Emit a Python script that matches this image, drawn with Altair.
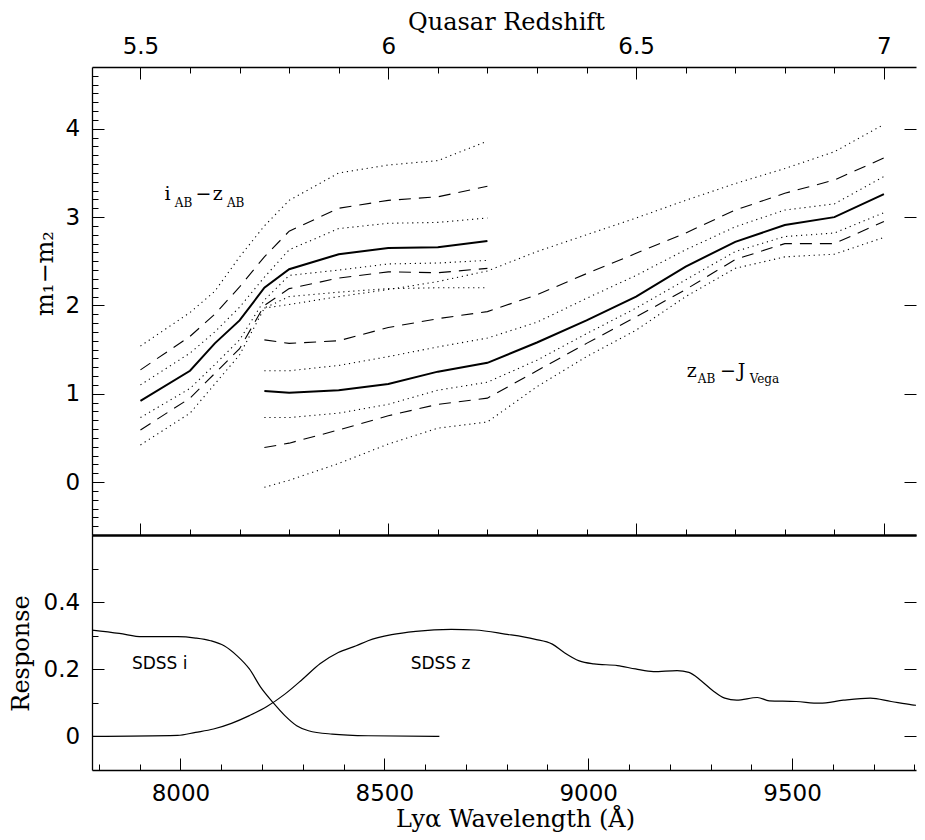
import altair as alt
import pandas as pd

LYA = 1215.67
X_DOMAIN = [7783, 9804]
Y_TOP = [-0.6, 4.7]
Y_BOT = [-0.1, 0.6]
W = 824
H_TOP = 468
H_BOT = 235

# ---------------- top panel: colour tracks (x = quasar redshift) ----------------
z_iz = [5.5, 5.6, 5.65, 5.7, 5.75, 5.8, 5.9, 6.0, 6.1, 6.2]
iz_dot_hi = [1.54, 1.92, 2.16, 2.55, 2.90, 3.19, 3.50, 3.59, 3.64, 3.86]
iz_dash_hi = [1.27, 1.65, 1.90, 2.21, 2.55, 2.84, 3.10, 3.19, 3.23, 3.35]
iz_dot_mid_hi = [1.10, 1.46, 1.70, 1.98, 2.32, 2.63, 2.87, 2.93, 2.94, 2.99]
iz_solid = [0.92, 1.26, 1.57, 1.83, 2.20, 2.41, 2.58, 2.65, 2.66, 2.73]
iz_dot_mid_lo = [0.73, 1.06, 1.33, 1.61, 2.06, 2.34, 2.40, 2.47, 2.48, 2.51]
iz_dash_lo = [0.59, 0.95, 1.23, 1.51, 2.00, 2.19, 2.31, 2.38, 2.37, 2.42]
iz_dot_lo = [0.42, 0.78, 1.11, 1.44, 1.97, 2.10, 2.15, 2.19, 2.20, 2.20]

z_zj = [5.75, 5.8, 5.9, 6.0, 6.1, 6.2, 6.3, 6.4, 6.5, 6.6, 6.7, 6.8, 6.9, 7.0]
zj_dot_hi = [1.97, 2.01, 2.10, 2.18, 2.27, 2.39, 2.61, 2.80, 2.99, 3.19, 3.38, 3.55, 3.74, 4.05]
zj_dash_hi = [1.61, 1.57, 1.60, 1.75, 1.85, 1.93, 2.12, 2.36, 2.59, 2.82, 3.08, 3.27, 3.42, 3.67]
zj_dot_mid_hi = [1.26, 1.26, 1.32, 1.42, 1.53, 1.63, 1.81, 2.08, 2.34, 2.63, 2.89, 3.08, 3.15, 3.46]
zj_solid = [1.03, 1.01, 1.04, 1.11, 1.25, 1.35, 1.58, 1.83, 2.10, 2.44, 2.72, 2.91, 3.00, 3.26]
zj_dot_mid_lo = [0.73, 0.73, 0.78, 0.88, 1.04, 1.13, 1.38, 1.68, 1.97, 2.29, 2.61, 2.78, 2.82, 3.05]
zj_dash_lo = [0.39, 0.44, 0.59, 0.75, 0.88, 0.95, 1.26, 1.57, 1.87, 2.18, 2.52, 2.70, 2.70, 2.95]
zj_dot_lo = [-0.06, 0.02, 0.21, 0.43, 0.61, 0.68, 1.08, 1.42, 1.72, 2.10, 2.42, 2.55, 2.58, 2.77]

# ---------------- bottom panel: filter responses (x = wavelength) ----------------
i_wave = [7782, 7850, 7906, 7993, 8037, 8074, 8107, 8139, 8169, 8197, 8227, 8256,
          8285, 8314, 8372, 8460, 8635]
i_resp = [0.317, 0.307, 0.297, 0.297, 0.293, 0.285, 0.270, 0.240, 0.201, 0.146, 0.101,
          0.062, 0.032, 0.017, 0.007, 0.002, 0.0]
z_wave = [7782, 7993, 8037, 8081, 8125, 8169, 8212, 8256, 8300, 8343, 8387, 8431, 8460,
          8518, 8577, 8664, 8723, 8796, 8868, 8912, 8941, 8978, 9014, 9072, 9116, 9160,
          9218, 9247, 9277, 9306, 9335, 9364, 9415, 9444, 9510, 9568, 9626, 9692, 9743,
          9794, 9841]
z_resp = [0.0, 0.003, 0.012, 0.022, 0.039, 0.062, 0.089, 0.126, 0.171, 0.217, 0.25, 0.27,
          0.285, 0.303, 0.313, 0.319, 0.317, 0.305, 0.29, 0.275, 0.25, 0.225, 0.216, 0.211,
          0.201, 0.193, 0.196, 0.191, 0.166, 0.136, 0.114, 0.108, 0.116, 0.106, 0.104,
          0.099, 0.108, 0.114, 0.104, 0.094, 0.09]

# ---------------- annotations ----------------
ann_main_text = ["i", "\u2212", "z", "z", "\u2212", "J"]
ann_main_wave = [7961, 8037, 8079, 9242, 9323, 9367]
ann_main_val = [3.19, 3.19, 3.19, 1.19, 1.19, 1.19]
ann_sub_text = ["AB", "AB", "AB", "Vega"]
ann_sub_wave = [7986, 8114, 9269, 9396]
ann_sub_val = [3.11, 3.11, 1.12, 1.12]
filt_text = ["SDSS i", "SDSS z"]
filt_wave = [7949, 8638]
filt_val = [0.2, 0.2]

# tick lists
redshift_ticks = [round(k / 10, 1) for k in range(55, 71)]
redshift_tick_waves = [round(LYA * (1 + z), 3) for z in redshift_ticks]
wave_ticks = list(range(7800, 9900, 100))
ytop_ticks = [round(k / 10, 1) for k in range(-5, 47)]
ytop_major_ticks = [0, 1, 2, 3, 4]
ybot_ticks = [round(k / 10, 1) for k in range(0, 6)]
ybot_major_ticks = [0, 0.2, 0.4]

# ---------------- data frames ----------------
rows = []
def add(name, style, zs, vals):
    for z, v in zip(zs, vals):
        rows.append(dict(series=name, style=style, wave=LYA * (1 + z), val=v))

add("iz_dot_hi", "dot", z_iz, iz_dot_hi)
add("iz_dash_hi", "dash", z_iz, iz_dash_hi)
add("iz_dot_mid_hi", "dot", z_iz, iz_dot_mid_hi)
add("iz_solid", "solid", z_iz, iz_solid)
add("iz_dot_mid_lo", "dot", z_iz, iz_dot_mid_lo)
add("iz_dash_lo", "dash", z_iz, iz_dash_lo)
add("iz_dot_lo", "dot", z_iz, iz_dot_lo)
add("zj_dot_hi", "dot", z_zj, zj_dot_hi)
add("zj_dash_hi", "dash", z_zj, zj_dash_hi)
add("zj_dot_mid_hi", "dot", z_zj, zj_dot_mid_hi)
add("zj_solid", "solid", z_zj, zj_solid)
add("zj_dot_mid_lo", "dot", z_zj, zj_dot_mid_lo)
add("zj_dash_lo", "dash", z_zj, zj_dash_lo)
add("zj_dot_lo", "dot", z_zj, zj_dot_lo)
df_top = pd.DataFrame(rows)

df_filt = pd.concat([
    pd.DataFrame(dict(series="i", wave=i_wave, val=i_resp)),
    pd.DataFrame(dict(series="z", wave=z_wave, val=z_resp)),
])
df_main = pd.DataFrame(dict(text=ann_main_text, wave=ann_main_wave, val=ann_main_val))
df_sub = pd.DataFrame(dict(text=ann_sub_text, wave=ann_sub_wave, val=ann_sub_val))
df_ftxt = pd.DataFrame(dict(text=filt_text, wave=filt_wave, val=filt_val))

# ---------------- axes ----------------
LABEL_FONT = "DejaVu Sans"
TITLE_FONT = "DejaVu Serif"
MAJ, MIN = 12, 6

def axis(orient, values, major_test, label_expr=None, title=None, pad=0,
         frame=True, frame_width=1.3, ticks=True, **kw):
    a = dict(orient=orient, values=values, grid=False, ticks=ticks,
             labelOverlap=False, labelFlush=False, labelBound=False)
    if ticks:
        a.update(tickColor="black", tickWidth=1,
                 tickSize=alt.ExprRef(expr=f"({major_test}) ? {-MAJ} : {-MIN}"))
    if frame:
        a.update(domain=True, domainColor="black", domainWidth=frame_width)
    else:
        a.update(domain=False)
    if label_expr:
        a.update(labels=True, labelExpr=label_expr, labelFont=LABEL_FONT, labelFontSize=23,
                 labelColor="black", labelPadding=pad)
    else:
        a.update(labels=False)
    if title:
        a.update(title=title, titleFont=TITLE_FONT, titleFontSize=24, titleFontWeight="normal",
                 titleColor="black")
    else:
        a.update(title=None)
    a.update(kw)
    return alt.Axis(**a)

z_expr = "(datum.value/1215.67-1)"
z_major = f"abs({z_expr}*2 - round({z_expr}*2)) < 0.02"
yt_major = "abs(datum.value - round(datum.value)) < 0.01"
w_major = "datum.value % 500 == 0"
yb_major = "abs(datum.value*5 - round(datum.value*5)) < 0.01"

ax_top_top = axis("top", redshift_tick_waves, z_major,
                  label_expr=f"({z_major}) ? '' + round({z_expr}*10)/10 : ''",
                  title="Quasar Redshift", pad=25.4, labelBaseline="alphabetic",
                  titleX=414, titleY=-37.7, titleBaseline="alphabetic", titleAlign="center")
ax_top_bottom = axis("bottom", redshift_tick_waves, z_major, frame_width=1.8)
ax_top_left = axis("left", ytop_ticks, yt_major,
                   label_expr=f"({yt_major}) ? '' + round(datum.value) : ''",
                   title="m\u2081\u2212m\u2082", pad=24.3, labelAlign="right",
                   labelBaseline="middle", titleX=-40, titleY=206, titleAngle=270,
                   titleBaseline="alphabetic", titleAlign="center")
ax_top_right = axis("right", ytop_major_ticks, yt_major, frame=False)

ax_bot_bottom = axis("bottom", wave_ticks, w_major,
                     label_expr=f"({w_major}) ? '' + datum.value : ''",
                     title="Ly\u03b1 Wavelength (\u00c5)", pad=42.7, labelBaseline="alphabetic",
                     titleX=423, titleY=56.7, titleBaseline="alphabetic", titleAlign="center")
ax_bot_top = axis("top", wave_ticks, w_major, frame_width=1.8, ticks=False)
ax_bot_left = axis("left", ybot_ticks, yb_major,
                   label_expr=f"({yb_major}) ? '' + datum.value : ''",
                   title="Response", pad=24.3, labelAlign="right", labelBaseline="middle",
                   titleX=-64, titleY=118, titleAngle=270, titleBaseline="alphabetic",
                   titleAlign="center")
ax_bot_right = axis("right", ybot_major_ticks, yb_major, frame=False)

xs = alt.Scale(domain=X_DOMAIN, nice=False, zero=False)
yst = alt.Scale(domain=Y_TOP, nice=False, zero=False)
ysb = alt.Scale(domain=Y_BOT, nice=False, zero=False)

# ---------------- top panel ----------------
base = alt.Chart(df_top)
dotted = base.transform_filter("datum.style == 'dot'").mark_line(
    color="black", strokeWidth=1.1, strokeDash=[1.2, 3.8], clip=True
).encode(x=alt.X("wave:Q", scale=xs, axis=ax_top_top),
         y=alt.Y("val:Q", scale=yst, axis=ax_top_left),
         detail="series:N")
dashed = base.transform_filter("datum.style == 'dash'").mark_line(
    color="black", strokeWidth=1.1, strokeDash=[12, 8], clip=True
).encode(x=alt.X("wave:Q", scale=xs, axis=ax_top_bottom),
         y=alt.Y("val:Q", scale=yst, axis=ax_top_right),
         detail="series:N")
solid = base.transform_filter("datum.style == 'solid'").mark_line(
    color="black", strokeWidth=2, clip=True
).encode(x=alt.X("wave:Q", scale=xs, axis=None),
         y=alt.Y("val:Q", scale=yst, axis=None),
         detail="series:N")
t_main = alt.Chart(df_main).mark_text(
    font=TITLE_FONT, fontSize=19, color="black", align="left", baseline="alphabetic"
).encode(x=alt.X("wave:Q", scale=xs, axis=None), y=alt.Y("val:Q", scale=yst, axis=None),
         text="text:N")
t_sub = alt.Chart(df_sub).mark_text(
    font=TITLE_FONT, fontSize=12, color="black", align="left", baseline="alphabetic"
).encode(x=alt.X("wave:Q", scale=xs, axis=None), y=alt.Y("val:Q", scale=yst, axis=None),
         text="text:N")

top = alt.layer(dotted, dashed, solid, t_main, t_sub).resolve_axis(
    x="independent", y="independent").properties(width=W, height=H_TOP)

# ---------------- bottom panel ----------------
curves = alt.Chart(df_filt).mark_line(
    color="black", strokeWidth=1.2, interpolate="monotone", clip=True
).encode(x=alt.X("wave:Q", scale=xs, axis=ax_bot_bottom),
         y=alt.Y("val:Q", scale=ysb, axis=ax_bot_left),
         detail="series:N")
ftxt = alt.Chart(df_ftxt).mark_text(
    font=LABEL_FONT, fontSize=17, color="black", align="center", baseline="alphabetic"
).encode(x=alt.X("wave:Q", scale=xs, axis=ax_bot_top),
         y=alt.Y("val:Q", scale=ysb, axis=ax_bot_right),
         text="text:N")

bottom = alt.layer(curves, ftxt).resolve_axis(
    x="independent", y="independent").properties(width=W, height=H_BOT)

chart = alt.vconcat(top, bottom, spacing=0, bounds="flush",
                    padding={"left": 1, "top": 2, "right": 0, "bottom": 0},
                    background="white").configure_view(stroke=None)

chart.save("out.html", embed_options={"renderer": "svg", "actions": False})
